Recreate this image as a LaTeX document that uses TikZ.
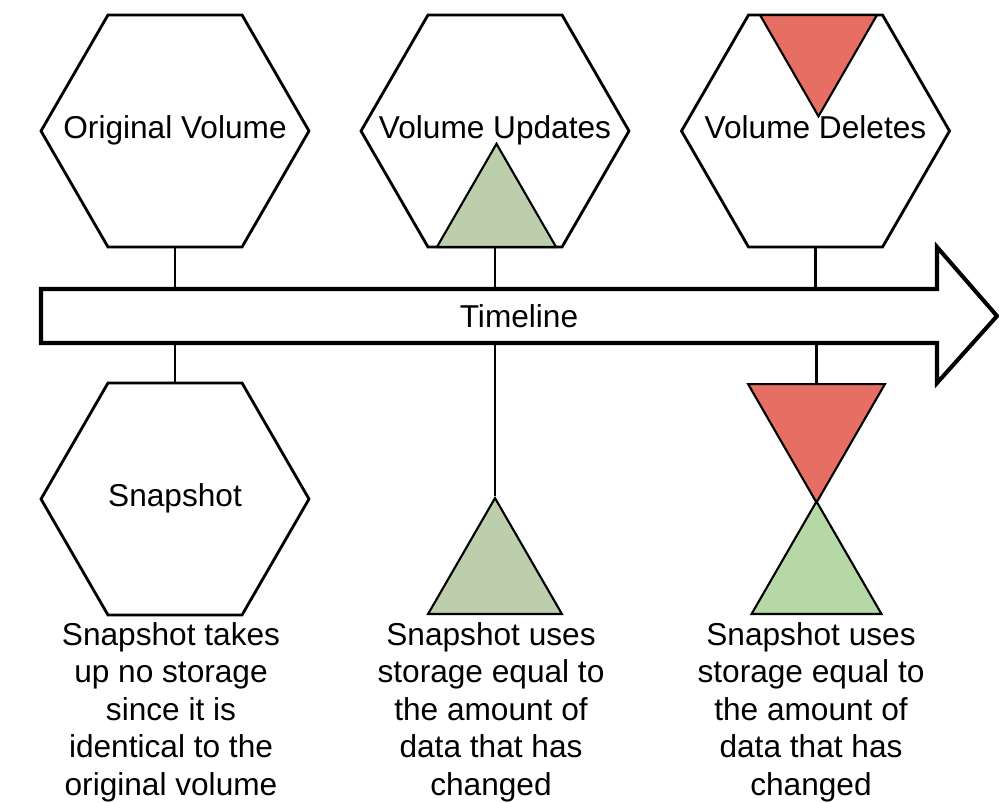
\documentclass[tikz,border=0pt]{standalone}
\usepackage{fontspec}
\setmainfont{Liberation Sans}
\usepackage{tikz}
\usetikzlibrary{positioning,shapes.geometric,calc}
\definecolor{delred}{RGB}{230, 110, 98}
\definecolor{updgreen}{RGB}{188, 206, 172}
\definecolor{newgreen}{RGB}{182, 216, 166}

\begin{document}
\begin{tikzpicture}[
    font=\fontsize{18}{21.3}\selectfont,
    every label/.append style={text height=13pt, text depth=4pt, inner sep=0pt},
    hexbox/.style={regular polygon, regular polygon sides=6, draw=black, line width=1.6pt, fill=white, minimum size=5.36cm, inner sep=0pt},
    uptri/.style={regular polygon, regular polygon sides=3, draw=black, line width=1.2pt, inner sep=0pt},
    downtri/.style={uptri, regular polygon rotate=180},
    timebar/.style={rectangle, minimum width=19.12cm, minimum height=1.08cm, inner sep=0pt, outer sep=0pt},
    link/.style={line width=1.6pt},
    note/.style={align=center, inner sep=0pt, anchor=north}
]
\useasboundingbox (0,0) rectangle (19.98,-16.04);

% Volume states (top row)
\node[hexbox, label=center:Original Volume] (orig) at (3.5, -2.62) {};
\node[hexbox, label=center:Volume Updates] (upd) at (9.9, -2.62) {};
\node[hexbox, label=center:Volume Deletes] (del) at (16.31, -2.62) {};

% Changed / deleted blocks inside the volumes
\node[uptri, fill=updgreen, minimum size=2.75cm, anchor=side 2] (updmark) at (9.93, -4.96) {};
\node[downtri, fill=delred, minimum size=2.70cm, anchor=side 2] (delmark) at (16.37, -0.28) {};

% Timeline arrow
\node[timebar] (time) at (10.38, -6.32) {Timeline};
\draw[line width=2.3pt] (time.north west) -- ([xshift=-1.2cm]time.north east) -- ++(0,0.84)
    -- (time.east) -- ([xshift=-1.2cm,yshift=-0.80cm]time.south east)
    -- ([xshift=-1.2cm]time.south east) -- (time.south west) -- cycle;

% Snapshots (bottom row)
\node[hexbox, label=center:Snapshot] (snap) at (3.5, -9.98) {};
\node[uptri, fill=updgreen, minimum size=3.09cm, anchor=side 2] (updsnap) at (9.9, -12.3) {};
\node[downtri, fill=delred, minimum size=3.16cm, anchor=side 2] (delsnapold) at (16.33, -7.66) {};
\node[uptri, fill=newgreen, minimum size=3.0cm, anchor=side 2] (delsnapnew) at (16.33, -12.3) {};

% Notes under the snapshots
\node[note] (snapnote) at (3.42, -12.44) {Snapshot takes\\up no storage\\since it is\\identical to the\\original volume};
\node[note] (updnote) at (9.82, -12.44) {Snapshot uses\\storage equal to\\the amount of\\data that has\\changed};
\node[note] (delnote) at (16.22, -12.44) {Snapshot uses\\storage equal to\\the amount of\\data that has\\changed};

% Connections to the timeline
\draw[link] (orig) -- (orig |- time.north);
\draw[link] (upd) -- (upd |- time.north);
\draw[link] (del) -- (del |- time.north);
\draw[link] (snap |- time.south) -- (snap);
\draw[link] (updsnap.corner 1 |- time.south) -- (updsnap.corner 1);
\draw[link] (delsnapold.side 2 |- time.south) -- (delsnapold.side 2);

\end{tikzpicture}
\end{document}
